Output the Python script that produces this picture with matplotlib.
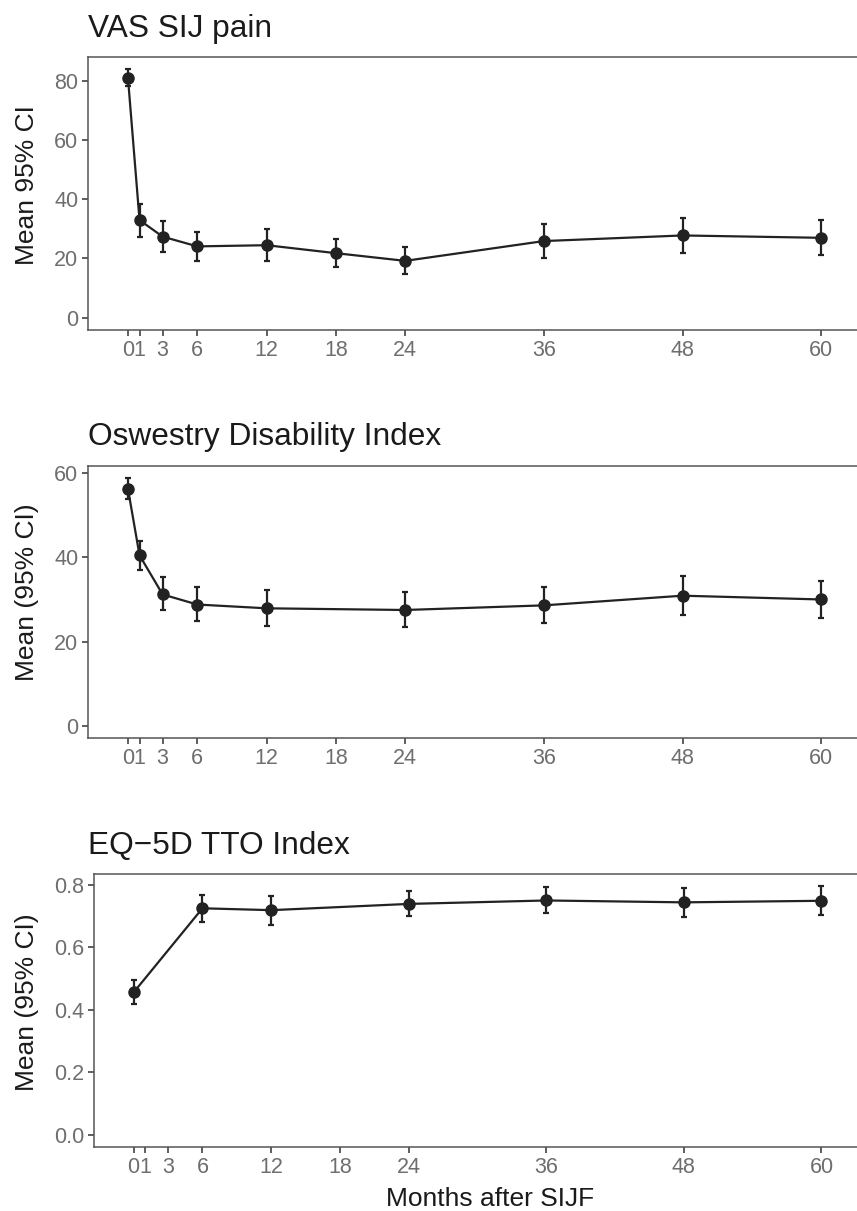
import matplotlib
matplotlib.use("Agg")
import matplotlib.pyplot as plt

plt.rcParams['font.family'] = ['Liberation Sans', 'DejaVu Sans']

# follow-up months shown on the x axis
month_ticks = [0, 1, 3, 6, 12, 18, 24, 36, 48, 60]

# VAS SIJ pain
vas_months = [0, 1, 3, 6, 12, 18, 24, 36, 48, 60]
vas_mean = [81.1, 33.0, 27.4, 24.1, 24.5, 21.8, 19.2, 25.9, 27.8, 27.0]
vas_lo = [78.3, 27.4, 22.3, 19.3, 19.2, 17.1, 14.7, 20.2, 21.8, 21.2]
vas_hi = [84.0, 38.4, 32.7, 29.1, 30.1, 26.6, 23.9, 31.6, 33.8, 33.1]

# Oswestry Disability Index
odi_months = [0, 1, 3, 6, 12, 24, 36, 48, 60]
odi_mean = [56.3, 40.5, 31.2, 28.8, 27.9, 27.5, 28.6, 30.9, 30.0]
odi_lo = [53.8, 36.9, 27.5, 24.9, 23.8, 23.4, 24.3, 26.2, 25.6]
odi_hi = [58.8, 44.0, 35.4, 32.9, 32.3, 31.7, 32.9, 35.5, 34.3]

# EQ-5D TTO index
eq_months = [0, 6, 12, 24, 36, 48, 60]
eq_mean = [0.455, 0.724, 0.718, 0.738, 0.749, 0.743, 0.748]
eq_lo = [0.419, 0.679, 0.672, 0.698, 0.710, 0.695, 0.702]
eq_hi = [0.493, 0.767, 0.763, 0.779, 0.792, 0.788, 0.794]

W, H = 857, 1211
fig = plt.figure(figsize=(W / 100, H / 100), dpi=100)

panels = [
    # title, ylabel, x, mean, lo, hi, y ticks, fmt, box (left, top, bottom px), title baseline px, ylabel centre px
    ("VAS SIJ pain", "Mean 95% CI", vas_months, vas_mean, vas_lo, vas_hi,
     [0, 20, 40, 60, 80], "{:.0f}", (88, 57, 330), 36.5, 185),
    ("Oswestry Disability Index", "Mean (95% CI)", odi_months, odi_mean, odi_lo, odi_hi,
     [0, 20, 40, 60], "{:.0f}", (88, 466, 738), 445, 592),
    ("EQ\u22125D TTO Index", "Mean (95% CI)", eq_months, eq_mean, eq_lo, eq_hi,
     [0.0, 0.2, 0.4, 0.6, 0.8], "{:.1f}", (94, 874, 1147), 854, 1002),
]

ink = '#222222'
for title, ylab, x, m, lo, hi, yt, fmt, box, tb, yc in panels:
    left, top, bottom = box
    ax = fig.add_axes([left / W, 1 - bottom / H, (W - left) / W, (bottom - top) / H])
    err = [[mm - l for mm, l in zip(m, lo)], [h - mm for mm, h in zip(m, hi)]]
    ax.errorbar(x, m, yerr=err, fmt='none', ecolor=ink, elinewidth=1.6,
                capsize=1.9, capthick=1.6, zorder=2)
    ax.plot(x, m, color=ink, lw=1.6, marker='o', ms=8, zorder=3)

    ymax = max(hi)
    pad = 0.05 * ymax
    ax.set_ylim(-pad, ymax + pad)
    ax.set_xlim(-3.46, 63.1)
    ax.set_xticks(month_ticks)
    ax.set_xticklabels([str(t) for t in month_ticks])
    ax.set_yticks(yt)
    ax.set_yticklabels([fmt.format(v) for v in yt])

    for s in ['left', 'top', 'bottom']:
        ax.spines[s].set_color('#555555')
        ax.spines[s].set_linewidth(1.1)
    ax.spines['right'].set_visible(False)
    ax.tick_params(axis='both', direction='out', length=4.5, width=1.1,
                   color='#333333', labelcolor='#6e6e6e', labelsize=15.5, pad=2.5)

    fig.text(88 / W, 1 - tb / H, title, fontsize=22.8, color='#1a1a1a',
             ha='left', va='baseline')
    fig.text(27 / W, 1 - yc / H, ylab, fontsize=19, color='#1a1a1a',
             rotation=90, ha='center', va='center')

fig.text(490 / W, 1 - 1206 / H, "Months after SIJF", fontsize=19, color='#1a1a1a',
         ha='center', va='baseline')

fig.savefig("out.png", dpi=100)
